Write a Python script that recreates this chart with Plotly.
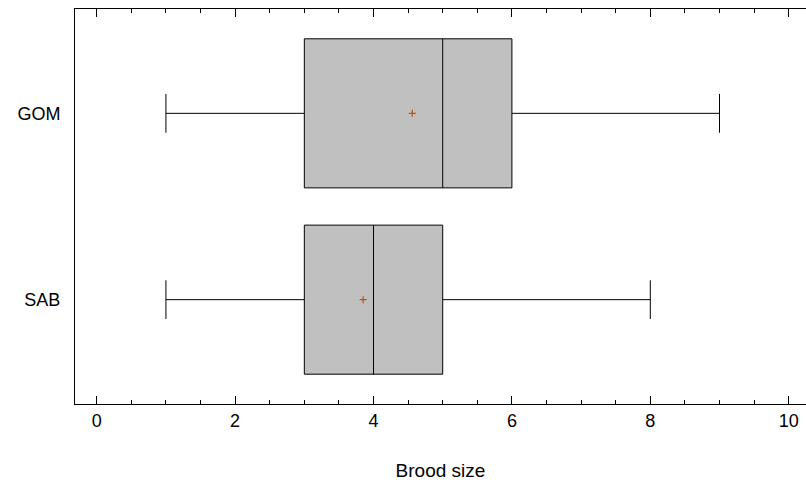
import plotly.graph_objects as go

groups = ["SAB", "GOM"]
lower = [1, 1]
q1 = [3, 3]
median = [4, 5]
q3 = [5, 6]
upper = [8, 9]
means = [3.85, 4.56]

x_ticks = [0, 2, 4, 6, 8, 10]

fig = go.Figure()
fig.add_trace(go.Box(
    y=groups, orientation="h",
    q1=q1, median=median, q3=q3, lowerfence=lower, upperfence=upper,
    fillcolor="#c0c0c0", line=dict(color="black", width=1),
    width=0.8, whiskerwidth=0.26, boxpoints=False, showlegend=False,
    hoverinfo="skip",
))
fig.add_trace(go.Scatter(
    x=means, y=groups, mode="markers",
    marker=dict(symbol="cross-thin", size=5, line=dict(color="#b5531a", width=1.2)),
    showlegend=False, hoverinfo="skip",
))

font = "Liberation Sans, Arial, sans-serif"
fig.update_layout(
    width=806, height=485,
    margin=dict(l=75, r=0, t=9, b=81),
    paper_bgcolor="white", plot_bgcolor="white",
    font=dict(family=font, size=18, color="black"),
    xaxis=dict(
        range=[-0.314, 10.25], tickvals=x_ticks, ticks="inside", ticklen=8,
        tickwidth=1, tickcolor="black", showline=True, linecolor="black",
        linewidth=1, mirror="ticks", showgrid=False, zeroline=False,
        tickfont=dict(size=18), automargin=False,
        minor=dict(dtick=0.5, ticks="inside", ticklen=4, tickcolor="black", showgrid=False),
        title=dict(text="Brood size", font=dict(size=19), standoff=34),
    ),
    yaxis=dict(
        type="category", categoryorder="array", categoryarray=groups,
        range=[-0.56, 1.56], showline=True, linecolor="black", linewidth=1,
        ticks="", showgrid=False, zeroline=False, tickfont=dict(size=18),
        ticklabelstandoff=10, automargin=False,
    ),
)

fig.write_html(
    "out.html",
    config={"displayModeBar": False},
    post_script="document.body.style.margin='0';document.body.style.overflow='hidden';",
)
